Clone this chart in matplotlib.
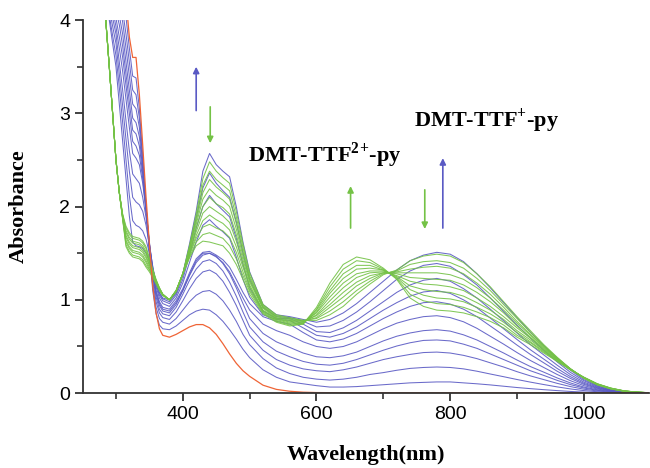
"""Spectroelectrochemistry of DMT-TTF-py: UV-vis-NIR absorbance during stepwise oxidation."""
import matplotlib

matplotlib.use("Agg")
import matplotlib.pyplot as plt  # noqa: E402
from matplotlib.ticker import MultipleLocator  # noqa: E402

# wavelength grid (nm) the spectra were read at
WAVELENGTH = [280, 290, 300, 305, 310, 315, 320, 325, 330, 335, 340, 345, 350, 355, 360, 365, 370,
              380, 390, 400, 410, 420, 430, 440, 450, 460, 470, 480, 490, 500,
              520, 540, 560, 580, 600, 620, 640, 660, 680, 700, 720, 740, 760, 780, 800,
              820, 840, 860, 880, 900, 920, 940, 960, 980, 1000, 1020, 1040, 1060, 1080, 1100]

# neutral DMT-TTF-py (red)
RED = [7.0, 6.2, 5.4, 5.0, 4.6, 4.22, 3.82, 3.6, 3.6, 3.2, 2.66, 2.1, 1.6, 1.15, 0.86, 0.69, 0.62,
       0.60, 0.63, 0.67, 0.71, 0.735, 0.735, 0.70, 0.63, 0.53, 0.42, 0.32, 0.24, 0.18,
       0.085, 0.04, 0.02, 0.01, 0.006, 0.005, 0.004, 0.004, 0.004, 0.004, 0.004, 0.004, 0.004, 0.004, 0.004,
       0.004, 0.004, 0.004, 0.004, 0.004, 0.004, 0.004, 0.004, 0.004, 0.004, 0.004, 0.004, 0.004, 0.004, 0.004]

# first oxidation -> DMT-TTF+-py (blue)
BLUE_1 = [6.0, 5.3, 4.7, 4.45, 4.25, 4.03, 3.7, 3.4, 3.38, 3.05, 2.55, 2.0, 1.5, 1.1, 0.85, 0.73, 0.69,
          0.68, 0.72, 0.78, 0.84, 0.88, 0.9, 0.89, 0.84, 0.77, 0.68, 0.58, 0.47, 0.38,
          0.25, 0.17, 0.12, 0.1, 0.08, 0.065, 0.065, 0.07, 0.08, 0.09, 0.1, 0.11, 0.115, 0.12, 0.12,
          0.11, 0.1, 0.088, 0.074, 0.06, 0.048, 0.037, 0.027, 0.018, 0.011, 0.006, 0.003, 0.002, 0.001, 0.001]
BLUE_2 = [5.7, 5.0, 4.5, 4.3, 4.1, 3.85, 3.55, 3.25, 3.2, 2.95, 2.5, 2.0, 1.52, 1.15, 0.92, 0.8, 0.76,
          0.74, 0.8, 0.89, 0.98, 1.05, 1.09, 1.1, 1.06, 0.99, 0.89, 0.77, 0.63, 0.52,
          0.37, 0.27, 0.21, 0.17, 0.15, 0.14, 0.15, 0.17, 0.2, 0.22, 0.245, 0.265, 0.275, 0.28, 0.275,
          0.26, 0.235, 0.205, 0.176, 0.146, 0.118, 0.092, 0.067, 0.045, 0.027, 0.015, 0.008, 0.004, 0.002, 0.001]
BLUE_3 = [5.5, 4.8, 4.35, 4.15, 3.98, 3.7, 3.4, 3.1, 3.05, 2.85, 2.45, 2.0, 1.55, 1.2, 0.98, 0.86, 0.81,
          0.79, 0.87, 0.99, 1.12, 1.23, 1.3, 1.32, 1.28, 1.2, 1.08, 0.94, 0.78, 0.62,
          0.46, 0.36, 0.3, 0.26, 0.24, 0.23, 0.25, 0.28, 0.32, 0.36, 0.39, 0.415, 0.435, 0.44, 0.43,
          0.405, 0.37, 0.325, 0.28, 0.23, 0.185, 0.145, 0.105, 0.07, 0.042, 0.023, 0.012, 0.006, 0.003, 0.001]
BLUE_4 = [5.3, 4.65, 4.2, 4.05, 3.85, 3.55, 3.25, 2.95, 2.9, 2.75, 2.4, 2.0, 1.58, 1.25, 1.03, 0.9, 0.85,
          0.83, 0.92, 1.06, 1.21, 1.33, 1.41, 1.43, 1.39, 1.31, 1.19, 1.04, 0.87, 0.71,
          0.55, 0.45, 0.39, 0.34, 0.31, 0.3, 0.32, 0.36, 0.41, 0.46, 0.505, 0.54, 0.565, 0.57, 0.56,
          0.525, 0.48, 0.42, 0.36, 0.3, 0.24, 0.19, 0.137, 0.091, 0.055, 0.03, 0.015, 0.007, 0.003, 0.002]
BLUE_5 = [5.1, 4.5, 4.1, 3.95, 3.72, 3.42, 3.12, 2.82, 2.78, 2.65, 2.35, 1.98, 1.6, 1.28, 1.06, 0.94, 0.88,
          0.86, 0.95, 1.1, 1.26, 1.4, 1.48, 1.5, 1.47, 1.39, 1.28, 1.13, 0.96, 0.8,
          0.64, 0.55, 0.49, 0.43, 0.39, 0.38, 0.4, 0.44, 0.5, 0.56, 0.61, 0.645, 0.67, 0.68, 0.665,
          0.625, 0.57, 0.5, 0.43, 0.355, 0.285, 0.225, 0.163, 0.109, 0.065, 0.036, 0.018, 0.008, 0.004, 0.002]
BLUE_6 = [4.95, 4.4, 4.02, 3.82, 3.6, 3.3, 3.0, 2.7, 2.65, 2.55, 2.3, 1.95, 1.6, 1.3, 1.08, 0.96, 0.9,
          0.88, 0.97, 1.1, 1.27, 1.42, 1.5, 1.5, 1.46, 1.4, 1.3, 1.16, 1.02, 0.89,
          0.74, 0.67, 0.62, 0.55, 0.5, 0.48, 0.5, 0.55, 0.62, 0.69, 0.75, 0.79, 0.82, 0.83, 0.81,
          0.765, 0.695, 0.61, 0.525, 0.435, 0.35, 0.275, 0.2, 0.133, 0.08, 0.044, 0.022, 0.01, 0.005, 0.002]
BLUE_7 = [4.8, 4.3, 3.93, 3.7, 3.45, 3.15, 2.85, 2.57, 2.52, 2.45, 2.25, 1.95, 1.62, 1.32, 1.1, 0.98, 0.92,
          0.9, 0.99, 1.12, 1.29, 1.44, 1.51, 1.52, 1.48, 1.43, 1.35, 1.22, 1.08, 0.96,
          0.82, 0.77, 0.74, 0.65, 0.57, 0.55, 0.58, 0.64, 0.72, 0.8, 0.87, 0.93, 0.97, 0.98, 0.955,
          0.9, 0.82, 0.72, 0.62, 0.515, 0.415, 0.325, 0.235, 0.157, 0.094, 0.052, 0.026, 0.012, 0.005, 0.002]
BLUE_8 = [4.7, 4.2, 3.85, 3.55, 3.25, 2.92, 2.6, 2.35, 2.3, 2.25, 2.1, 1.88, 1.6, 1.35, 1.14, 1.02, 0.96,
          0.93, 1.02, 1.18, 1.4, 1.62, 1.8, 1.86, 1.79, 1.73, 1.66, 1.46, 1.22, 1.03,
          0.84, 0.79, 0.78, 0.7, 0.62, 0.6, 0.64, 0.71, 0.8, 0.89, 0.97, 1.04, 1.085, 1.1, 1.07,
          1.0, 0.915, 0.805, 0.69, 0.575, 0.465, 0.365, 0.265, 0.176, 0.105, 0.058, 0.029, 0.013, 0.006, 0.003]
BLUE_9 = [4.6, 4.12, 3.75, 3.42, 3.08, 2.72, 2.38, 2.1, 2.05, 2.02, 1.95, 1.8, 1.58, 1.36, 1.17, 1.05, 0.99,
          0.96, 1.05, 1.22, 1.48, 1.77, 2.0, 2.12, 2.03, 1.96, 1.89, 1.66, 1.38, 1.13,
          0.88, 0.8, 0.8, 0.74, 0.66, 0.65, 0.7, 0.78, 0.88, 0.98, 1.08, 1.16, 1.21, 1.23, 1.2,
          1.12, 1.02, 0.9, 0.775, 0.645, 0.52, 0.41, 0.3, 0.198, 0.118, 0.065, 0.032, 0.015, 0.007, 0.003]
BLUE_10 = [4.55, 4.05, 3.62, 3.28, 2.9, 2.5, 2.12, 1.85, 1.8, 1.78, 1.74, 1.65, 1.5, 1.34, 1.18, 1.07, 1.01,
           0.98, 1.07, 1.26, 1.55, 1.88, 2.2, 2.36, 2.25, 2.17, 2.1, 1.84, 1.5, 1.22,
           0.92, 0.82, 0.81, 0.77, 0.71, 0.72, 0.78, 0.87, 0.98, 1.1, 1.22, 1.31, 1.37, 1.39, 1.36,
           1.27, 1.16, 1.02, 0.875, 0.73, 0.59, 0.46, 0.335, 0.222, 0.133, 0.073, 0.036, 0.017, 0.008, 0.003]
BLUE_11 = [4.5, 4.0, 3.5, 3.1, 2.7, 2.3, 1.9, 1.62, 1.58, 1.57, 1.55, 1.5, 1.42, 1.3, 1.18, 1.08, 1.02,
           1.0, 1.08, 1.28, 1.6, 1.95, 2.38, 2.57, 2.45, 2.38, 2.32, 2.0, 1.62, 1.3,
           0.95, 0.84, 0.82, 0.79, 0.76, 0.79, 0.86, 0.96, 1.08, 1.2, 1.32, 1.42, 1.48, 1.51, 1.49,
           1.41, 1.28, 1.13, 0.97, 0.81, 0.655, 0.51, 0.37, 0.245, 0.145, 0.08, 0.04, 0.018, 0.008, 0.003]

# second oxidation -> DMT-TTF2+-py (green)
GREEN_1 = [4.45, 3.5, 2.5, 2.15, 1.86, 1.57, 1.50, 1.46, 1.45, 1.44, 1.41, 1.35, 1.30, 1.24, 1.17, 1.10, 1.05,
           1.0, 1.09, 1.28, 1.58, 1.92, 2.3, 2.48, 2.38, 2.31, 2.25, 1.95, 1.6, 1.29,
           0.95, 0.84, 0.81, 0.78, 0.78, 0.84, 0.93, 1.06, 1.17, 1.27, 1.32, 1.42, 1.47, 1.49, 1.47,
           1.40, 1.28, 1.14, 0.98, 0.82, 0.67, 0.52, 0.385, 0.26, 0.16, 0.09, 0.045, 0.02, 0.009, 0.003]
GREEN_2 = [4.45, 3.5, 2.5, 2.15, 1.87, 1.59, 1.52, 1.48, 1.47, 1.46, 1.43, 1.37, 1.32, 1.25, 1.18, 1.10, 1.05,
           1.0, 1.09, 1.28, 1.57, 1.88, 2.23, 2.38, 2.29, 2.23, 2.17, 1.89, 1.56, 1.26,
           0.94, 0.83, 0.80, 0.78, 0.80, 0.88, 0.98, 1.10, 1.20, 1.28, 1.31, 1.38, 1.41, 1.42, 1.40,
           1.34, 1.23, 1.10, 0.95, 0.80, 0.65, 0.51, 0.38, 0.26, 0.16, 0.09, 0.046, 0.02, 0.009, 0.003]
GREEN_3 = [4.45, 3.5, 2.5, 2.15, 1.87, 1.62, 1.55, 1.51, 1.50, 1.49, 1.46, 1.40, 1.33, 1.26, 1.18, 1.11, 1.05,
           1.0, 1.09, 1.28, 1.55, 1.84, 2.15, 2.29, 2.21, 2.15, 2.08, 1.82, 1.52, 1.24,
           0.93, 0.82, 0.79, 0.77, 0.81, 0.92, 1.03, 1.15, 1.23, 1.29, 1.30, 1.33, 1.35, 1.36, 1.34,
           1.28, 1.18, 1.06, 0.92, 0.77, 0.63, 0.50, 0.375, 0.26, 0.16, 0.09, 0.047, 0.021, 0.009, 0.003]
GREEN_4 = [4.45, 3.5, 2.5, 2.15, 1.88, 1.64, 1.57, 1.53, 1.52, 1.51, 1.48, 1.42, 1.35, 1.27, 1.19, 1.11, 1.05,
           1.0, 1.09, 1.28, 1.54, 1.81, 2.08, 2.19, 2.12, 2.07, 2.0, 1.76, 1.47, 1.21,
           0.92, 0.81, 0.78, 0.77, 0.83, 0.95, 1.08, 1.19, 1.26, 1.29, 1.29, 1.29, 1.29, 1.29, 1.27,
           1.22, 1.13, 1.02, 0.89, 0.75, 0.62, 0.49, 0.37, 0.26, 0.165, 0.095, 0.048, 0.022, 0.009, 0.003]
GREEN_5 = [4.45, 3.5, 2.5, 2.15, 1.89, 1.67, 1.60, 1.56, 1.55, 1.54, 1.51, 1.45, 1.37, 1.28, 1.19, 1.11, 1.05,
           1.0, 1.09, 1.28, 1.52, 1.77, 2.0, 2.1, 2.03, 1.99, 1.92, 1.70, 1.43, 1.19,
           0.91, 0.80, 0.77, 0.76, 0.84, 0.99, 1.13, 1.24, 1.29, 1.30, 1.28, 1.24, 1.23, 1.22, 1.21,
           1.16, 1.08, 0.98, 0.86, 0.72, 0.60, 0.48, 0.365, 0.255, 0.165, 0.095, 0.05, 0.022, 0.01, 0.004]
GREEN_6 = [4.45, 3.5, 2.5, 2.15, 1.89, 1.69, 1.62, 1.58, 1.57, 1.56, 1.53, 1.47, 1.38, 1.29, 1.20, 1.12, 1.06,
           1.0, 1.1, 1.28, 1.51, 1.73, 1.93, 2.0, 1.95, 1.90, 1.83, 1.63, 1.39, 1.16,
           0.89, 0.80, 0.76, 0.76, 0.86, 1.03, 1.18, 1.28, 1.31, 1.31, 1.26, 1.20, 1.17, 1.16, 1.14,
           1.10, 1.02, 0.93, 0.82, 0.70, 0.59, 0.47, 0.36, 0.255, 0.165, 0.095, 0.051, 0.023, 0.01, 0.004]
GREEN_7 = [4.45, 3.5, 2.5, 2.15, 1.90, 1.72, 1.65, 1.61, 1.60, 1.59, 1.56, 1.50, 1.40, 1.30, 1.20, 1.12, 1.06,
           1.0, 1.1, 1.28, 1.49, 1.69, 1.85, 1.91, 1.86, 1.82, 1.75, 1.57, 1.35, 1.14,
           0.88, 0.79, 0.75, 0.75, 0.87, 1.07, 1.23, 1.33, 1.34, 1.32, 1.25, 1.15, 1.11, 1.09, 1.08,
           1.04, 0.97, 0.89, 0.79, 0.67, 0.57, 0.46, 0.355, 0.255, 0.165, 0.095, 0.052, 0.023, 0.01, 0.004]
GREEN_8 = [4.45, 3.5, 2.5, 2.15, 1.91, 1.74, 1.67, 1.63, 1.62, 1.61, 1.58, 1.52, 1.42, 1.31, 1.21, 1.12, 1.06,
           1.0, 1.1, 1.28, 1.48, 1.66, 1.78, 1.81, 1.77, 1.74, 1.67, 1.51, 1.30, 1.11,
           0.87, 0.78, 0.74, 0.75, 0.89, 1.10, 1.28, 1.37, 1.37, 1.32, 1.24, 1.11, 1.05, 1.02, 1.01,
           0.98, 0.92, 0.85, 0.76, 0.65, 0.55, 0.45, 0.35, 0.25, 0.17, 0.1, 0.053, 0.024, 0.01, 0.004]
GREEN_9 = [4.45, 3.5, 2.5, 2.15, 1.91, 1.77, 1.70, 1.66, 1.65, 1.64, 1.61, 1.55, 1.43, 1.32, 1.21, 1.13, 1.06,
           1.0, 1.1, 1.28, 1.46, 1.62, 1.70, 1.72, 1.69, 1.66, 1.58, 1.44, 1.26, 1.09,
           0.86, 0.77, 0.73, 0.74, 0.90, 1.14, 1.33, 1.42, 1.40, 1.33, 1.23, 1.06, 0.99, 0.96, 0.95,
           0.92, 0.87, 0.81, 0.73, 0.62, 0.54, 0.44, 0.345, 0.25, 0.17, 0.1, 0.054, 0.024, 0.01, 0.004]
GREEN_10 = [4.45, 3.5, 2.5, 2.15, 1.92, 1.79, 1.72, 1.68, 1.67, 1.66, 1.63, 1.57, 1.45, 1.33, 1.22, 1.13, 1.06,
            1.0, 1.1, 1.28, 1.45, 1.58, 1.63, 1.62, 1.60, 1.58, 1.50, 1.38, 1.22, 1.06,
            0.85, 0.76, 0.72, 0.74, 0.92, 1.18, 1.38, 1.46, 1.43, 1.34, 1.22, 1.02, 0.93, 0.89, 0.88,
            0.86, 0.82, 0.77, 0.70, 0.60, 0.52, 0.43, 0.34, 0.25, 0.17, 0.1, 0.055, 0.025, 0.01, 0.004]

BLUE = [BLUE_1, BLUE_2, BLUE_3, BLUE_4, BLUE_5, BLUE_6, BLUE_7, BLUE_8, BLUE_9, BLUE_10, BLUE_11]
GREEN = [GREEN_1, GREEN_2, GREEN_3, GREEN_4, GREEN_5, GREEN_6, GREEN_7, GREEN_8, GREEN_9, GREEN_10]

C_RED = "#ef6436"
C_BLUE = "#5a5ac4"
C_GREEN = "#74c246"
C_AXIS = "#333333"

plt.rcParams.update({
    "font.family": ["Liberation Sans", "DejaVu Sans"],
    "mathtext.fontset": "custom",
    "mathtext.rm": "Liberation Serif:bold",
    "mathtext.bf": "Liberation Serif:bold",
})

fig = plt.figure(figsize=(6.5, 4.68), dpi=100)
ax = fig.add_axes([0.127, 0.160, 0.871, 0.797])

for spec in BLUE:
    assert len(spec) == len(WAVELENGTH)
    ax.plot(WAVELENGTH, spec, color=C_BLUE, lw=0.75, alpha=0.9)
for spec in GREEN:
    assert len(spec) == len(WAVELENGTH)
    ax.plot(WAVELENGTH, spec, color=C_GREEN, lw=0.75, alpha=0.9)
ax.plot(WAVELENGTH, RED, color=C_RED, lw=0.9)

ax.set_xlim(250, 1097)
ax.set_ylim(0, 4)
ax.xaxis.set_major_locator(MultipleLocator(200))
ax.xaxis.set_minor_locator(MultipleLocator(100))
ax.yaxis.set_major_locator(MultipleLocator(1))
ax.yaxis.set_minor_locator(MultipleLocator(0.5))
ax.spines["top"].set_visible(False)
ax.spines["right"].set_visible(False)
for s in ("left", "bottom"):
    ax.spines[s].set_color(C_AXIS)
    ax.spines[s].set_linewidth(1.3)
ax.tick_params(which="major", direction="out", length=6, width=1.3, color=C_AXIS,
               labelsize=14, pad=3)
ax.tick_params(which="minor", direction="out", length=4, width=1.2, color=C_AXIS)

serif = dict(family="Liberation Serif", fontweight="bold")
ax.set_xlabel("Wavelength(nm)", fontsize=16, labelpad=16, **serif)
ax.set_ylabel("Absorbance", fontsize=16, labelpad=22, **serif)

# species labels (two math runs keep "2+" tight, no binary-operator spacing)
ax.text(497, 2.55, r"DMT-TTF$^{2}$$^{+}$-py", fontsize=16, ha="left", va="center", **serif)
ax.text(746, 2.92, r"DMT-TTF$^{+}$-py", fontsize=16, ha="left", va="center", **serif)

# growth / decay arrows
arrows = [((420, 3.03), (420, 3.50), C_BLUE),
          ((441, 3.07), (441, 2.68), C_GREEN),
          ((651, 1.77), (651, 2.22), C_GREEN),
          ((762, 2.18), (762, 1.76), C_GREEN),
          ((789, 1.77), (789, 2.52), C_BLUE)]
for start, end, col in arrows:
    ax.annotate("", xy=end, xytext=start,
                arrowprops=dict(arrowstyle="-|>", color=col, lw=1.2,
                                mutation_scale=9, shrinkA=0, shrinkB=0))

fig.savefig("out.png", dpi=100)
